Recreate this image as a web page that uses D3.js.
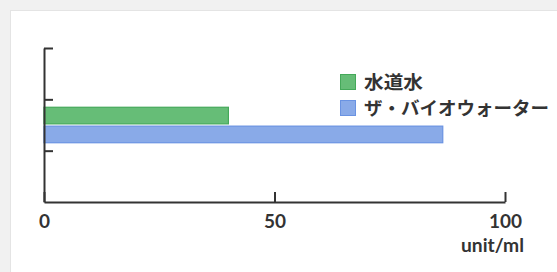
<!DOCTYPE html>
<html>
<head>
<meta charset="utf-8">
<script src="https://cdn.jsdelivr.net/npm/d3@7"></script>
<style>
  html, body { margin: 0; padding: 0; background: #f1f1f1; }
  svg { display: block; }
</style>
</head>
<body>
<div id="chart"></div>
<script>
document.addEventListener("DOMContentLoaded", function () {
    const width = 557;
    const height = 272;

    // data
    const seriesNames = ["水道水", "ザ・バイオウォーター"];
    const seriesValues = [40, 86.5];
    const seriesColors = ["#66bd77", "#89aae8"];
    const seriesStrokes = ["#45a95a", "#6a93e2"];
    const xTicks = [0, 50, 100];
    const yTicks = [1, 2, 3];
    const unitLabel = "unit/ml";

    const svg = d3.select("#chart")
        .append("svg")
        .attr("width", width)
        .attr("height", height);

    // white card with soft edge
    svg.append("rect")
        .attr("x", 10.5).attr("y", 10.5)
        .attr("width", width).attr("height", height)
        .attr("fill", "#ffffff")
        .attr("stroke", "#e4e4e4");

    const x = d3.scaleLinear().domain([0, 100]).range([44, 505]);
    const y = d3.scaleLinear().domain([0, 3]).range([202, 48]);

    // bars sit in the middle slot between y=1 and y=2
    const band = d3.scaleBand()
        .domain(seriesNames)
        .range([y(2), y(1)])
        .paddingInner(0.12)
        .paddingOuter(0.42);

    svg.selectAll(".bar")
        .data(seriesNames)
        .enter()
        .append("rect")
        .attr("class", "bar")
        .attr("x", x(0))
        .attr("y", d => band(d))
        .attr("width", (d, i) => x(seriesValues[i]) - x(0))
        .attr("height", band.bandwidth())
        .attr("fill", (d, i) => seriesColors[i])
        .attr("stroke", (d, i) => seriesStrokes[i])
        .attr("stroke-width", 1.2);

    // x axis, ticks pointing up
    const xAxis = svg.append("g")
        .attr("transform", `translate(0,${y(0)})`)
        .call(d3.axisBottom(x)
            .tickValues(xTicks)
            .tickSizeInner(-10)
            .tickSizeOuter(0)
            .tickPadding(13));

    xAxis.select(".domain").attr("stroke", "#333").attr("stroke-width", 2);
    xAxis.selectAll(".tick line").attr("stroke", "#333").attr("stroke-width", 2);
    xAxis.selectAll(".tick text")
        .attr("fill", "#333")
        .style("font-family", "Lato, 'DejaVu Sans', sans-serif")
        .style("font-weight", "bold")
        .style("font-size", "19px");

    // y axis, ticks pointing right, no labels
    const yAxis = svg.append("g")
        .attr("transform", `translate(${x(0)},0)`)
        .call(d3.axisLeft(y)
            .tickValues(yTicks)
            .tickSizeInner(-9)
            .tickSizeOuter(0)
            .tickFormat(""));

    yAxis.select(".domain").attr("stroke", "#333").attr("stroke-width", 2);
    yAxis.selectAll(".tick line").attr("stroke", "#333").attr("stroke-width", 2);

    // unit label under the last tick
    svg.append("text")
        .attr("x", 524)
        .attr("y", 252)
        .attr("text-anchor", "end")
        .attr("fill", "#333")
        .attr("textLength", 63)
        .attr("lengthAdjust", "spacingAndGlyphs")
        .style("font-family", "Lato, 'DejaVu Sans', sans-serif")
        .style("font-weight", "bold")
        .style("font-size", "18px")
        .text(unitLabel);

    // legend
    const legend = svg.selectAll(".legend")
        .data(seriesNames)
        .enter()
        .append("g")
        .attr("class", "legend")
        .attr("transform", (d, i) => `translate(340,${74 + i * 26})`);

    legend.append("rect")
        .attr("x", 0.5).attr("y", 0.5)
        .attr("width", 15).attr("height", 15)
        .attr("fill", (d, i) => seriesColors[i])
        .attr("stroke", (d, i) => seriesStrokes[i]);

    const legendWidths = [59, 185];
    legend.append("text")
        .attr("x", 24)
        .attr("y", 15)
        .attr("fill", "#333")
        .attr("textLength", (d, i) => legendWidths[i])
        .attr("lengthAdjust", "spacingAndGlyphs")
        .style("font-family", "'Noto Sans CJK JP', sans-serif")
        .style("font-weight", "bold")
        .style("font-size", "18px")
        .text(d => d);
});
</script>
</body>
</html>
